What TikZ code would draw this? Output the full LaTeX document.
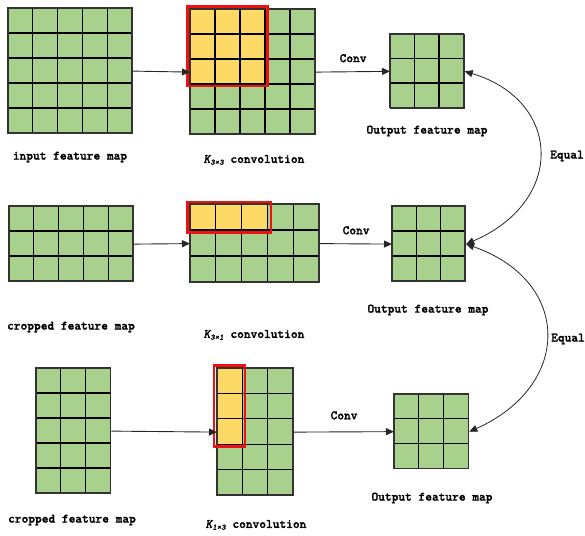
\documentclass[tikz,border=0pt]{standalone}
\usepackage{fontspec}
\newfontfamily\lblfont[ItalicFont=lmmonolt10-boldoblique.otf, FakeBold=1.6, ItalicFeatures={FakeBold=1.6}]{lmmonolt10-bold.otf}
\usetikzlibrary{arrows.meta}
\definecolor{fmgreen}{HTML}{A9D18E}
\definecolor{fmyellow}{HTML}{FFD966}
\definecolor{fmred}{HTML}{F01010}
\tikzset{
  fmbox/.style={draw=black!80, line width=1.2pt, fill=fmgreen, inner sep=0pt, anchor=north west},
  gridline/.style={draw=black, line width=1.1pt},
  yellowcell/.style={fill=fmyellow},
  redframe/.style={draw=fmred, line width=2.4pt},
  conn/.style={draw=black!85, line width=0.9pt, -{Triangle[length=8pt,width=7pt]}},
  eqconn/.style={draw=black!85, line width=0.8pt, {Triangle[length=8pt,width=7pt]}-{Triangle[length=8pt,width=7pt]}},
  lbl/.style={font=\lblfont\fontsize{12.8pt}{14pt}\selectfont, inner sep=0pt}
}
% #1 name, #2 x0, #3 y0, #4 cols, #5 rows, #6 cell w, #7 cell h
\newcommand\fmapgrid[7]{%
  \node[fmbox, minimum width=#4*#6pt, minimum height=#5*#7pt] (#1) at (#2,#3) {};
}
\newcommand\fmaplines[7]{%
  \foreach \i in {1,...,\numexpr#4-1\relax}
    \draw[gridline] (#2+\i*#6,#3) -- (#2+\i*#6,#3+#5*#7);
  \foreach \j in {1,...,\numexpr#5-1\relax}
    \draw[gridline] (#2,#3+\j*#7) -- (#2+#4*#6,#3+\j*#7);
  \draw[draw=black!80, line width=1.2pt] (#2,#3) rectangle (#2+#4*#6,#3+#5*#7);
}
\newcommand\kconv[1]{{\itshape K}\raisebox{-0.35ex}{\fontsize{8.5pt}{9pt}\selectfont\itshape #1}\ convolution}
\begin{document}
\begin{tikzpicture}[x=1pt,y=-1pt]
\useasboundingbox (0,0) rectangle (585,535);
% ---------- row 1 ----------
\fmapgrid{in1}{8}{8}{5}{5}{24.8}{25}
\fmaplines{in1}{8}{8}{5}{5}{24.8}{25}
\fmapgrid{cv1}{190}{9}{5}{5}{25}{25}
\fill[yellowcell] (190,9) rectangle (265,84);
\fmaplines{cv1}{190}{9}{5}{5}{25}{25}
\draw[redframe] (187.5,6.5) rectangle (267.5,86);
\fmapgrid{out1}{390}{34}{3}{3}{24.5}{24.5}
\fmaplines{out1}{390}{34}{3}{3}{24.5}{24.5}
% ---------- row 2 ----------
\fmapgrid{in2}{9}{206}{5}{3}{24.8}{25}
\fmaplines{in2}{9}{206}{5}{3}{24.8}{25}
\fmapgrid{cv2}{190}{204}{5}{3}{25.8}{26}
\fill[yellowcell] (190,204) rectangle (267.4,230);
\fmaplines{cv2}{190}{204}{5}{3}{25.8}{26}
\draw[redframe] (187.5,202) rectangle (271,232.5);
\fmapgrid{out2}{392}{206}{3}{3}{24.3}{25}
\fmaplines{out2}{392}{206}{3}{3}{24.3}{25}
% ---------- row 3 ----------
\fmapgrid{in3}{36}{368}{3}{5}{24.7}{25}
\fmaplines{in3}{36}{368}{3}{5}{24.7}{25}
\fmapgrid{cv3}{217}{368}{3}{5}{25.3}{25.4}
\fill[yellowcell] (217,368) rectangle (242.3,444.2);
\fmaplines{cv3}{217}{368}{3}{5}{25.3}{25.4}
\draw[redframe] (214,365.5) rectangle (245,446.5);
\fmapgrid{out3}{394}{394}{3}{3}{24.7}{24.7}
\fmaplines{out3}{394}{394}{3}{3}{24.7}{24.7}
% ---------- connectors ----------
\draw[conn] (in1.east) -- (cv1.west);
\draw[conn] (cv1.east) -- (out1.west) node[lbl, midway, above=9pt] (conv1) {Conv};
\draw[conn] (in2.east) -- (cv2.west);
\draw[conn] (cv2.east) -- (out2.west) node[lbl, midway, above=9pt] (conv2) {Conv};
\draw[conn] (in3.east) -- (cv3.west);
\draw[conn] (cv3.east) -- (out3.west) node[lbl, midway, above=12pt] (conv3) {Conv};
\draw[eqconn] (out1.east) .. controls +(97,29) and +(100,-43) .. (out2.east);
\draw[eqconn] (out2.east) .. controls +(106,37) and +(103,-46) .. (out3.east);
% ---------- labels ----------
\node[lbl] (l1) at (70,157) {input feature map};
\node[lbl] (l2) at (254,160) {\kconv{3×3}};
\node[lbl] (l3) at (427,131) {Output feature map};
\node[lbl] (eq1) at (567,156) {Equal};
\node[lbl] (l4) at (71,327) {cropped feature map};
\node[lbl] (l5) at (254,335) {\kconv{3×1}};
\node[lbl] (l6) at (428,310) {Output feature map};
\node[lbl] (eq2) at (568,339) {Equal};
\node[lbl] (l7) at (72,520) {cropped feature map};
\node[lbl] (l8) at (256,525) {\kconv{1×3}};
\node[lbl] (l9) at (432,498) {Output feature map};
\end{tikzpicture}
\end{document}
